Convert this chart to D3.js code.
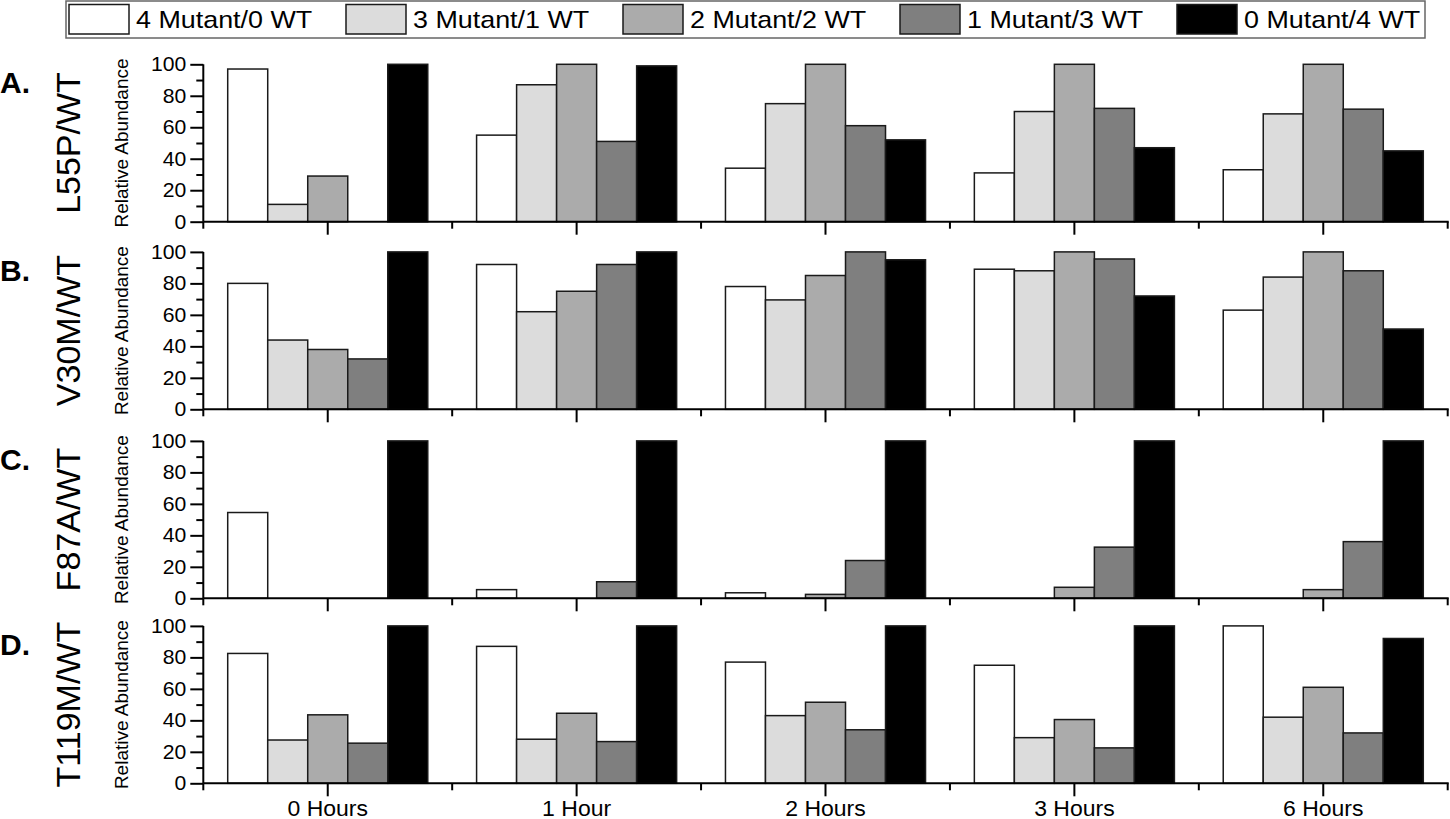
<!DOCTYPE html>
<html><head><meta charset="utf-8">
<script src="https://cdn.jsdelivr.net/npm/d3@7"></script>
<style>
html,body{margin:0;padding:0;background:#fff;}
svg{display:block;font-family:Arial,"Liberation Sans",sans-serif;}
</style></head>
<body>
<svg id="chart" width="1450" height="819"></svg>
<script>
const timepoints = ["0 Hours", "1 Hour", "2 Hours", "3 Hours", "6 Hours"];
const seriesNames = ["4 Mutant/0 WT", "3 Mutant/1 WT", "2 Mutant/2 WT", "1 Mutant/3 WT", "0 Mutant/4 WT"];
const seriesColors = ["#ffffff", "#dcdcdc", "#ababab", "#7f7f7f", "#000000"];
const panelLetters = ["A.", "B.", "C.", "D."];
const panelTitles = ["L55P/WT", "V30M/WT", "F87A/WT", "T119M/WT"];
const yTicks = [0, 20, 40, 60, 80, 100];

// values[timepoint][series]
const L55P = [
  [97, 11, 29, 0, 100],
  [55, 87, 100, 51, 99],
  [34, 75, 100, 61, 52],
  [31, 70, 100, 72, 47],
  [33, 68.5, 100, 71.5, 45]
];
const V30M = [
  [80, 44, 38, 32, 100],
  [92, 62, 75, 92, 100],
  [78, 69.5, 85, 100, 95],
  [89, 88, 100, 95.5, 72],
  [63, 84, 100, 88, 51]
];
const F87A = [
  [54.5, 0, 0, 0, 100],
  [5.5, 0, 0, 10.5, 100],
  [3.5, 0, 2.5, 24, 100],
  [0, 0, 7, 32.5, 100],
  [0, 0, 5.5, 36, 100]
];
const T119M = [
  [82.5, 27.5, 43.5, 25.5, 100],
  [87, 28, 44.5, 26.5, 100],
  [77, 43, 51.5, 34, 100],
  [75, 29, 40.5, 22.5, 100],
  [100, 42, 61, 32, 92]
];
const panelData = [L55P, V30M, F87A, T119M];

const svg = d3.select("#chart");
const left = 203.3, right = 1447.7;
const panelBases = [221.7, 409.3, 598.3, 783.3];
const panelH = 157.4;
const FONT = "Arial, 'Liberation Sans', sans-serif";

const x0 = d3.scaleBand().domain(timepoints).range([left, right]).paddingInner(0).paddingOuter(0);
const x1 = d3.scaleBand().domain(d3.range(seriesNames.length)).range([0, x0.bandwidth()]).paddingInner(0).paddingOuter(0.61);

const stroke = "#1a1a1a";

panelData.forEach((data, p) => {
  const base = panelBases[p];
  const y = d3.scaleLinear().domain([0, 100]).range([base, base - panelH]);
  const g = svg.append("g");

  // bars
  timepoints.forEach((tp, t) => {
    const gg = g.append("g").attr("transform", `translate(${x0(tp)},0)`);
    gg.selectAll("rect").data(data[t].map((v, i) => ({v, i})).filter(d => d.v > 0))
      .join("rect")
      .attr("x", d => x1(d.i))
      .attr("width", x1.bandwidth())
      .attr("y", d => y(d.v))
      .attr("height", d => y(0) - y(d.v))
      .attr("fill", d => seriesColors[d.i])
      .attr("stroke", stroke)
      .attr("stroke-width", 1.5);
  });

  // y axis
  const yAxis = d3.axisLeft(y).tickValues(yTicks).tickSize(13).tickPadding(3);
  const ya = g.append("g").attr("transform", `translate(${left},0)`).call(yAxis);
  ya.select(".domain").remove();
  ya.selectAll(".tick line").attr("stroke", "#000").attr("stroke-width", 2);
  ya.selectAll(".tick text").attr("font-size", 20).attr("fill", "#000")
    .attr("font-family", FONT).attr("transform", "scale(1.06,1)");
  const yMinor = d3.axisLeft(y).tickValues([10, 30, 50, 70, 90]).tickSize(7).tickFormat("");
  const ym = g.append("g").attr("transform", `translate(${left},0)`).call(yMinor);
  ym.select(".domain").remove();
  ym.selectAll(".tick line").attr("stroke", "#000").attr("stroke-width", 2);
  g.append("line").attr("x1", left).attr("x2", left).attr("y1", y(0)).attr("y2", y(100))
    .attr("stroke", "#000").attr("stroke-width", 2);

  // x axis
  const xAxis = d3.axisBottom(x0).tickSize(13).tickPadding(4);
  const xa = g.append("g").attr("transform", `translate(0,${base})`).call(xAxis);
  xa.select(".domain").remove();
  xa.selectAll(".tick line").attr("stroke", "#000").attr("stroke-width", 2);
  if (p === panelData.length - 1) {
    xa.selectAll(".tick text").attr("font-size", 21.5).attr("fill", "#000")
      .attr("font-family", FONT).attr("transform", "scale(1.07,1)");
  } else {
    xa.selectAll(".tick text").remove();
  }
  const bounds = timepoints.map(tp => x0(tp)).concat([right]);
  g.append("g").selectAll("line").data(bounds).join("line")
    .attr("x1", d => d).attr("x2", d => d).attr("y1", base).attr("y2", base + 7)
    .attr("stroke", "#000").attr("stroke-width", 2);
  g.append("line").attr("x1", left).attr("x2", right + 1).attr("y1", base).attr("y2", base)
    .attr("stroke", "#000").attr("stroke-width", 2);

  // labels
  const cy = base - panelH / 2;
  g.append("text").attr("x", 0).attr("y", base - panelH + 29)
    .attr("font-size", 30).attr("font-weight", "bold").text(panelLetters[p]);
  g.append("text").attr("transform", `translate(80,${cy}) rotate(-90)`)
    .attr("text-anchor", "middle").attr("font-size", 34).text(panelTitles[p]);
  g.append("text").attr("transform", `translate(128,${cy}) rotate(-90)`)
    .attr("text-anchor", "middle").attr("font-size", 19).text("Relative Abundance");
});

// legend
const lg = svg.append("g");
lg.append("rect").attr("x", 66).attr("y", 1).attr("width", 1359).attr("height", 37)
  .attr("fill", "#fff").attr("stroke", "#666").attr("stroke-width", 1.5);
const items = lg.selectAll("g.item").data(seriesNames).join("g").attr("class", "item")
  .attr("transform", (d, i) => `translate(${68 + i * 277},0)`);
items.append("rect").attr("x", 1).attr("y", 4.5).attr("width", 60).attr("height", 29.5)
  .attr("fill", (d, i) => seriesColors[i]).attr("stroke", stroke).attr("stroke-width", 1.5);
items.append("text").attr("transform", "translate(68,28.3) scale(1.12,1)")
  .attr("font-size", 24).text(d => d);
</script>
</body></html>
